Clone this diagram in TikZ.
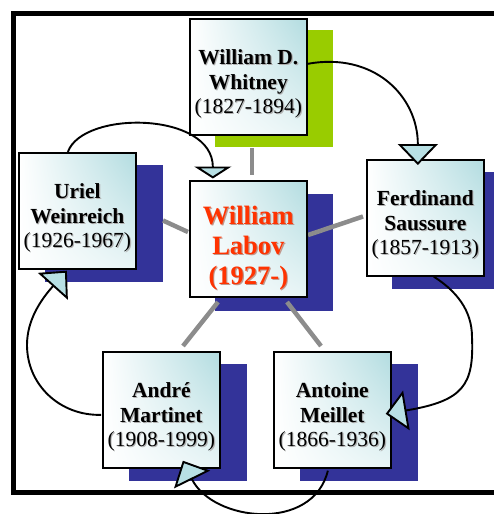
\documentclass[tikz,border=0pt]{standalone}
\usepackage{fontspec}
\setmainfont{Liberation Serif}
\usetikzlibrary{arrows.meta,shadings}

\definecolor{navyshadow}{HTML}{333399}
\definecolor{limeshadow}{HTML}{99CC00}
\definecolor{boxteal}{HTML}{B2DCE0}
\definecolor{arrowfill}{HTML}{B8E0E4}
\definecolor{labovred}{HTML}{FF3300}
\definecolor{spokegray}{HTML}{8C8C8C}

\newcommand\ptext[5]{%
  \node[#3, text=#4, xshift=1.1pt, yshift=-1.1pt] at (#2.center) {#5};
  \node[#3] (#1) at (#2.center) {#5};}

\begin{document}
\begin{tikzpicture}[x=1pt,y=-1pt,
  personbox/.style={draw=black, line width=1.7pt, minimum width=117pt,
    minimum height=116pt, inner sep=0pt, anchor=north west, shade,
    upper left=white, upper right=boxteal, lower left=white,
    lower right=boxteal!30!white},
  shadowrect/.style={minimum width=118pt, minimum height=117pt,
    inner sep=0pt, anchor=north west},
  persontext/.style={align=center, inner sep=0pt, yshift=-7pt,
    font=\fontsize{21.5}{24.5}\selectfont\bfseries, text=black},
  labovtext/.style={align=center, inner sep=0pt, yshift=-9pt,
    font=\fontsize{26.5}{30}\selectfont\bfseries, text=labovred},
  spoke/.style={draw=spokegray, line width=4.5pt},
  influence/.style={draw=black, line width=1.9pt},
  bigtip/.style={-{Triangle[width=40pt,length=21pt,fill=arrowfill]}},
  smalltip/.style={-{Triangle[width=37pt,length=12pt,fill=arrowfill]}}
]
\useasboundingbox (0,0) rectangle (494,514);

% frame (right side lies outside the picture)
\draw[line width=5pt] (13.5,13.5) rectangle (540,492);

% shadows
\node[shadowrect, fill=limeshadow] (whitneyS) at (215,30) {};
\node[shadowrect, fill=navyshadow] (labovS) at (215,194) {};
\node[shadowrect, fill=navyshadow] (weinreichS) at (45,165) {};
\node[shadowrect, fill=navyshadow] (saussureS) at (392,172) {};
\node[shadowrect, fill=navyshadow] (martinetS) at (129,364) {};
\node[shadowrect, fill=navyshadow] (meilletS) at (300,364) {};

% spokes
\coordinate (s1a) at (252,148); \coordinate (s1b) at (252,175);
\coordinate (s2a) at (163,220.5); \coordinate (s2b) at (188,232);
\coordinate (s3a) at (308,235); \coordinate (s3b) at (363,216.5);
\coordinate (s4a) at (218,302); \coordinate (s4b) at (183,346);
\coordinate (s5a) at (287,302); \coordinate (s5b) at (321,346);
\draw[spoke] (s1a) -- (s1b);
\draw[spoke] (s2a) -- (s2b);
\draw[spoke] (s3a) -- (s3b);
\draw[spoke] (s4a) -- (s4b);
\draw[spoke] (s5a) -- (s5b);

% boxes
\node[personbox] (whitney) at (189,18) {};
\node[personbox] (labov) at (189,180) {};
\node[personbox] (weinreich) at (18,152) {};
\node[personbox] (saussure) at (366,159) {};
\node[personbox] (martinet) at (102,351) {};
\node[personbox] (meillet) at (273,351) {};

% texts
\ptext{whitneyT}{whitney}{persontext}{black!30}{William D.\\Whitney\\\mdseries(1827-1894)}
\ptext{labovT}{labov}{labovtext}{labovred!45!black!45}{William\\Labov\\(1927-)}
\ptext{weinreichT}{weinreich}{persontext}{black!30}{Uriel\\Weinreich\\\mdseries(1926-1967)}
\ptext{saussureT}{saussure}{persontext}{black!30}{Ferdinand\\Saussure\\\mdseries(1857-1913)}
\ptext{martinetT}{martinet}{persontext}{black!30}{André\\Martinet\\\mdseries(1908-1999)}
\ptext{meilletT}{meillet}{persontext}{black!30}{Antoine\\Meillet\\\mdseries(1866-1936)}

% influence arrows
\draw[influence, bigtip] ([yshift=13pt]whitney.east)
  .. controls +(65,-12) and +(0,-70) .. ([xshift=-7.5pt,yshift=-6pt]saussure.north);
\draw[influence, smalltip] ([xshift=-9.5pt]weinreich.north)
  .. controls +(15,-42) and +(0,-67) .. ([xshift=-35.5pt,yshift=1.5pt]labov.north);
\draw[influence, bigtip] ([xshift=8.5pt]saussure.south)
  .. controls +(22,14) and +(0,-27) .. (472,337)
  .. controls +(2,48) and +(78,-13) .. ([xshift=-6pt,yshift=-4pt]meillet.east);
\draw[influence, bigtip] ([xshift=-4.5pt,yshift=-2pt]meillet.south)
  .. controls +(-15,62) and +(30,61) .. ([xshift=21.5pt,yshift=8pt]martinet.south);
\draw[influence, bigtip] ([xshift=-1pt,yshift=-5pt]martinet.west)
  .. controls +(-41,1) and +(0,40) .. (27,345)
  .. controls +(0,-25) and +(-26,29) .. ([xshift=-10.5pt,yshift=-1pt]weinreich.south);
\end{tikzpicture}
\end{document}
